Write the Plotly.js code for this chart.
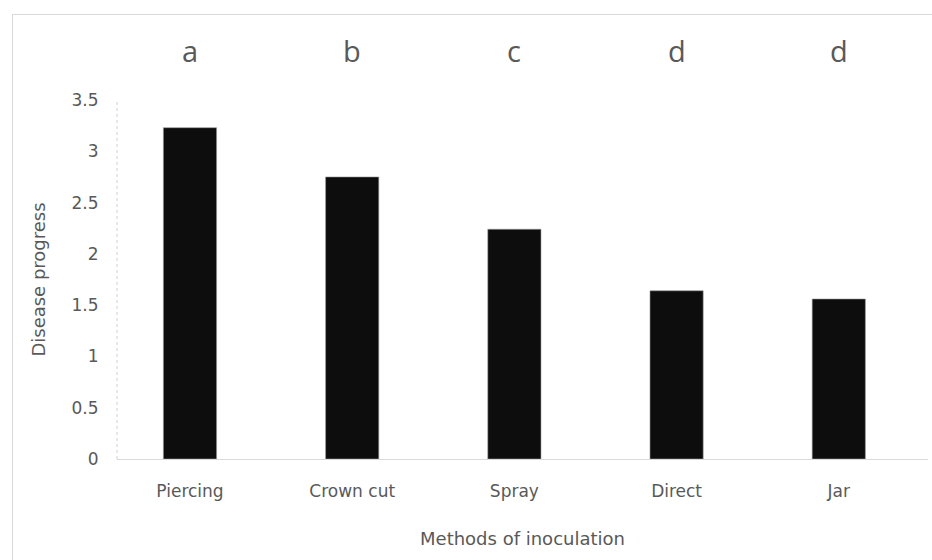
<!DOCTYPE html>
<html>
<head>
<meta charset="utf-8">
<script src="https://cdn.plot.ly/plotly-3.0.1.min.js"></script>
<style>
  html, body { margin: 0; padding: 0; background: #ffffff; overflow: hidden; }
  #frame { position: absolute; left: 12px; top: 14px; width: 940px; height: 560px; border: 1px solid #d9d9d9; box-sizing: border-box; }
  #chart { position: absolute; left: 0; top: 0; width: 932px; height: 560px; }
</style>
</head>
<body>
<div id="frame"></div>
<div id="chart"></div>
<script>
const categories = ["Piercing", "Crown cut", "Spray", "Direct", "Jar"];
const values = [3.23, 2.75, 2.24, 1.64, 1.56];
const letters = ["a", "b", "c", "d", "d"];
const yTicks = [0, 0.5, 1, 1.5, 2, 2.5, 3, 3.5];
const yTickText = ["0", "0.5", "1", "1.5", "2", "2.5", "3", "3.5"];

const FONT = "DejaVu Sans, Open Sans, sans-serif";
const TXT = "#595959";

const trace = {
  type: "bar",
  x: categories,
  y: values,
  marker: { color: "#0d0d0d", line: { width: 0.6, color: "#9a9a9a" } },
  hoverinfo: "skip"
};

const annotations = categories.map((c, i) => ({
  x: c, y: 1, xref: "x", yref: "paper",
  yanchor: "middle", yshift: 50,
  text: letters[i], showarrow: false,
  font: { family: "Open Sans, sans-serif", size: 29, color: TXT }
}));

const layout = {
  width: 932, height: 560,
  margin: { l: 117, r: 4, t: 100, b: 101 },
  paper_bgcolor: "rgba(0,0,0,0)",
  plot_bgcolor: "rgba(0,0,0,0)",
  showlegend: false,
  bargap: 0.672,
  font: { family: FONT, color: TXT, size: 17 },
  xaxis: {
    type: "category",
    range: [-0.45, 4.55],
    showgrid: false, zeroline: false,
    showline: true, linecolor: "#d9d9d9", linewidth: 1,
    ticks: "outside", ticklen: 17, tickcolor: "rgba(0,0,0,0)",
    tickfont: { family: FONT, size: 17, color: TXT },
    title: { text: "Methods of inoculation", font: { family: FONT, size: 18, color: TXT }, standoff: 31 }
  },
  yaxis: {
    range: [0, 3.5],
    tickvals: yTicks, ticktext: yTickText,
    showgrid: false, zeroline: false, showline: false,
    ticks: "outside", ticklen: 14, tickcolor: "rgba(0,0,0,0)",
    tickfont: { family: FONT, size: 17, color: TXT },
    title: { text: "Disease progress", font: { family: FONT, size: 18, color: TXT }, standoff: 21 }
  },
  shapes: [{
    type: "line", xref: "paper", yref: "paper",
    x0: 0, x1: 0, y0: 0, y1: 1,
    line: { color: "#d0d0d0", width: 1, dash: "dot" }
  }],
  annotations: annotations
};

Plotly.newPlot("chart", [trace], layout, { displayModeBar: false, staticPlot: true });
</script>
</body>
</html>
